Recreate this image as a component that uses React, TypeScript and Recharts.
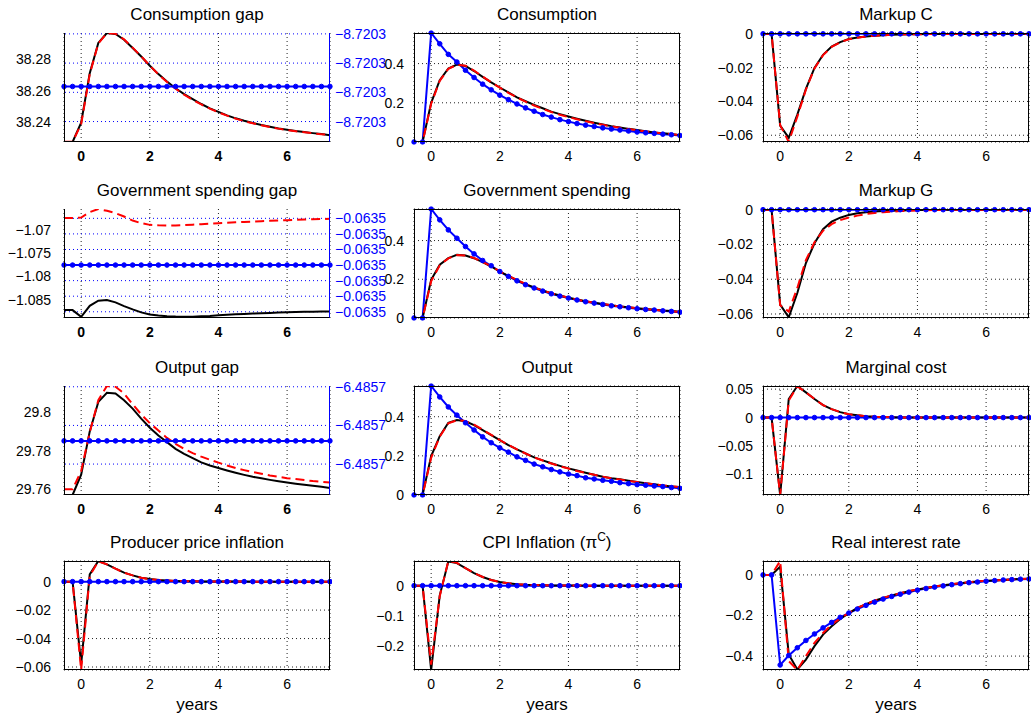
import React from "react"
import { CartesianGrid, Line, LineChart, ReferenceLine, XAxis, YAxis } from "recharts"

// horizon in years, one point per quarter
const quarters = [
  -0.5, -0.25, 0, 0.25, 0.5, 0.75, 1, 1.25, 1.5, 1.75, 2, 2.25, 2.5, 2.75, 3, 3.25,
  3.5, 3.75, 4, 4.25, 4.5, 4.75, 5, 5.25, 5.5, 5.75, 6, 6.25, 6.5, 6.75, 7, 7.25,
]
const xTicks = [0, 2, 4, 6]

// Consumption gap
const consGapBlack = [
  38.227, 38.227, 38.2394, 38.2712, 38.2906, 38.297, 38.2964, 38.2927,
  38.2874, 38.2819, 38.276, 38.2706, 38.2658, 38.2615, 38.2577, 38.2545,
  38.2514, 38.2486, 38.2463, 38.2441, 38.2422, 38.2406, 38.2392, 38.2379,
  38.2368, 38.2357, 38.2348, 38.234, 38.2334, 38.2327, 38.2321, 38.2314,
]
const consGapRed = [
  38.2271, 38.2271, 38.2385, 38.2705, 38.2903, 38.2969, 38.2965, 38.2929,
  38.2876, 38.282, 38.276, 38.2705, 38.2656, 38.2612, 38.2574, 38.2541,
  38.2511, 38.2484, 38.246, 38.2439, 38.242, 38.2404, 38.239, 38.2377,
  38.2366, 38.2356, 38.2347, 38.2339, 38.2332, 38.2326, 38.232, 38.2315,
]
const consGapBlue = [
  -8.7202988, -8.7202988, -8.7202988, -8.7202988, -8.7202988, -8.7202988, -8.7202988, -8.7202988,
  -8.7202988, -8.7202988, -8.7202988, -8.7202988, -8.7202988, -8.7202988, -8.7202988, -8.7202988,
  -8.7202988, -8.7202988, -8.7202988, -8.7202988, -8.7202988, -8.7202988, -8.7202988, -8.7202988,
  -8.7202988, -8.7202988, -8.7202988, -8.7202988, -8.7202988, -8.7202988, -8.7202988, -8.7202988,
]
const consGapTicks = [38.24, 38.26, 38.28]
const consGapRightTicks = [-8.7203, -8.720299, -8.720298, -8.720297]

// Government spending gap
const govGapBlack = [
  -1.08721, -1.08721, -1.08865, -1.08629, -1.08521, -1.08506, -1.08556, -1.08635,
  -1.08706, -1.0877, -1.08813, -1.08835, -1.0885, -1.0886, -1.08865, -1.08862,
  -1.08855, -1.08845, -1.0883, -1.0882, -1.08812, -1.08804, -1.08796, -1.08789,
  -1.08782, -1.08775, -1.08768, -1.08763, -1.08759, -1.08755, -1.08752, -1.0875,
]
const govGapRed = [
  -1.06755, -1.06755, -1.06742, -1.06627, -1.0656, -1.06599, -1.06648, -1.06721,
  -1.06807, -1.06863, -1.06899, -1.0691, -1.06914, -1.06912, -1.06906, -1.06895,
  -1.06884, -1.06873, -1.06863, -1.06854, -1.06845, -1.06836, -1.06828, -1.0682,
  -1.06812, -1.06805, -1.06798, -1.06792, -1.06786, -1.0678, -1.06775, -1.0677,
]
const govGapBlue = [
  -0.0634997, -0.0634997, -0.0634997, -0.0634997, -0.0634997, -0.0634997, -0.0634997, -0.0634997,
  -0.0634997, -0.0634997, -0.0634997, -0.0634997, -0.0634997, -0.0634997, -0.0634997, -0.0634997,
  -0.0634997, -0.0634997, -0.0634997, -0.0634997, -0.0634997, -0.0634997, -0.0634997, -0.0634997,
  -0.0634997, -0.0634997, -0.0634997, -0.0634997, -0.0634997, -0.0634997, -0.0634997, -0.0634997,
]
const govGapTicks = [-1.085, -1.08, -1.075, -1.07]
const govGapRightTicks = [-0.0635, -0.0634999, -0.0634998, -0.0634997, -0.0634996, -0.0634995, -0.0634994]

// Output gap
const outGapBlack = [
  29.7568, 29.7568, 29.7674, 29.79, 29.8054, 29.8102, 29.8098, 29.8063,
  29.8019, 29.7967, 29.7919, 29.7879, 29.7844, 29.7809, 29.7783, 29.776,
  29.7738, 29.7722, 29.7709, 29.7696, 29.7684, 29.7673, 29.7663, 29.7655,
  29.7647, 29.764, 29.7633, 29.7627, 29.7621, 29.7616, 29.7611, 29.7605,
]
const outGapRed = [
  29.7598, 29.7598, 29.7693, 29.7895, 29.8063, 29.8137, 29.8133, 29.8098,
  29.8042, 29.7989, 29.7943, 29.7905, 29.7866, 29.7835, 29.7809, 29.7787,
  29.7768, 29.7752, 29.7737, 29.7722, 29.7709, 29.7698, 29.7688, 29.7679,
  29.767, 29.7663, 29.7656, 29.7651, 29.7646, 29.7641, 29.7637, 29.7633,
]
const outGapBlue = [
  -6.4856994, -6.4856994, -6.4856994, -6.4856994, -6.4856994, -6.4856994, -6.4856994, -6.4856994,
  -6.4856994, -6.4856994, -6.4856994, -6.4856994, -6.4856994, -6.4856994, -6.4856994, -6.4856994,
  -6.4856994, -6.4856994, -6.4856994, -6.4856994, -6.4856994, -6.4856994, -6.4856994, -6.4856994,
  -6.4856994, -6.4856994, -6.4856994, -6.4856994, -6.4856994, -6.4856994, -6.4856994, -6.4856994,
]
const outGapTicks = [29.76, 29.78, 29.8]
const outGapRightTicks = [-6.4857, -6.485699, -6.485698]

// Consumption
const consBlack = [
  0, 0, 0.2, 0.315, 0.375, 0.395, 0.388, 0.362, 0.332, 0.304, 0.278, 0.253, 0.228, 0.208, 0.189, 0.172,
  0.155, 0.142, 0.13, 0.119, 0.108, 0.098, 0.089, 0.081, 0.074, 0.067, 0.061, 0.055, 0.049, 0.045, 0.041, 0.035,
]
const consRed = [
  0, 0, 0.195, 0.312, 0.373, 0.394, 0.389, 0.364, 0.334, 0.304, 0.277, 0.251, 0.227, 0.206, 0.186, 0.169,
  0.153, 0.139, 0.127, 0.116, 0.106, 0.097, 0.088, 0.08, 0.073, 0.066, 0.06, 0.054, 0.049, 0.044, 0.04, 0.036,
]
const consBlue = [
  0, 0, 0.556, 0.501, 0.447, 0.408, 0.366, 0.329, 0.295, 0.266, 0.239, 0.216, 0.194, 0.174, 0.157, 0.14,
  0.127, 0.114, 0.104, 0.094, 0.086, 0.079, 0.072, 0.066, 0.061, 0.056, 0.051, 0.047, 0.044, 0.04, 0.037, 0.033,
]

// Government spending
const govBlack = [
  0, 0, 0.197, 0.275, 0.309, 0.326, 0.323, 0.309, 0.289, 0.266, 0.24, 0.218, 0.196, 0.175, 0.158, 0.142,
  0.128, 0.116, 0.105, 0.096, 0.087, 0.079, 0.072, 0.066, 0.06, 0.055, 0.05, 0.046, 0.043, 0.039, 0.036, 0.032,
]
const govRed = [
  0, 0, 0.19, 0.272, 0.308, 0.325, 0.323, 0.31, 0.29, 0.267, 0.241, 0.218, 0.196, 0.176, 0.158, 0.142,
  0.128, 0.116, 0.105, 0.095, 0.086, 0.079, 0.072, 0.066, 0.06, 0.055, 0.05, 0.046, 0.042, 0.038, 0.035, 0.031,
]
const govBlue = [
  0, 0, 0.563, 0.507, 0.455, 0.412, 0.369, 0.331, 0.297, 0.27, 0.24, 0.215, 0.192, 0.172, 0.155, 0.139,
  0.125, 0.113, 0.103, 0.093, 0.084, 0.077, 0.07, 0.063, 0.058, 0.053, 0.048, 0.044, 0.041, 0.037, 0.034, 0.03,
]

// Output
const outBlack = [
  0, 0, 0.199, 0.301, 0.369, 0.383, 0.377, 0.357, 0.332, 0.306, 0.281, 0.255, 0.233, 0.213, 0.192, 0.177,
  0.162, 0.149, 0.136, 0.125, 0.114, 0.103, 0.093, 0.086, 0.08, 0.073, 0.066, 0.06, 0.055, 0.049, 0.044, 0.041,
]
const outRed = [
  0, 0, 0.19, 0.298, 0.366, 0.382, 0.378, 0.359, 0.334, 0.307, 0.281, 0.256, 0.233, 0.212, 0.192, 0.176,
  0.161, 0.147, 0.135, 0.123, 0.113, 0.103, 0.094, 0.086, 0.079, 0.072, 0.066, 0.06, 0.054, 0.049, 0.045, 0.04,
]
const outBlue = [
  0, 0, 0.557, 0.501, 0.45, 0.408, 0.369, 0.332, 0.297, 0.267, 0.241, 0.219, 0.195, 0.177, 0.158, 0.144,
  0.13, 0.118, 0.107, 0.099, 0.088, 0.082, 0.075, 0.07, 0.063, 0.058, 0.053, 0.05, 0.046, 0.043, 0.038, 0.034,
]
const levelTicks = [0, 0.2, 0.4]

// flexible-price path sits at steady state for the markups, costs and inflation
const flatBlue = [
  0, 0, 0, 0, 0, 0, 0, 0, 0, 0, 0, 0, 0, 0, 0, 0,
  0, 0, 0, 0, 0, 0, 0, 0, 0, 0, 0, 0, 0, 0, 0, 0,
]

// Markup C
const markupCBlack = [
  0, 0, -0.0543, -0.0616, -0.0478, -0.0326, -0.0202, -0.0124, -0.0075, -0.0049, -0.0031, -0.0022, -0.0016, -0.0011, -0.0008, -0.0006,
  -0.0004, -0.0003, -0.0002, -0.00015, -0.0001, -0.00008, -0.00006, -0.00005, -0.00004, -0.00003, -0.00002, -0.00002, -0.00001, -0.00001, -0.00001, -0.00001,
]
const markupCRed = [
  0, 0, -0.054, -0.064, -0.049, -0.033, -0.0205, -0.0126, -0.0077, -0.005, -0.0032, -0.0023, -0.0016, -0.0011, -0.0008, -0.0006,
  -0.0004, -0.0003, -0.0002, -0.00015, -0.0001, -0.00008, -0.00006, -0.00005, -0.00004, -0.00003, -0.00002, -0.00002, -0.00001, -0.00001, -0.00001, -0.00001,
]

// Markup G
const markupGBlack = [
  0, 0, -0.0546, -0.0619, -0.0479, -0.0307, -0.0193, -0.0112, -0.0069, -0.0046, -0.003, -0.0021, -0.0015, -0.0011, -0.0008, -0.0006,
  -0.0004, -0.0003, -0.0002, -0.00015, -0.0001, -0.00008, -0.00006, -0.00005, -0.00004, -0.00003, -0.00002, -0.00002, -0.00001, -0.00001, -0.00001, -0.00001,
]
const markupGRed = [
  0, 0, -0.055, -0.0586, -0.045, -0.029, -0.0187, -0.0121, -0.0083, -0.006, -0.0045, -0.0034, -0.0025, -0.0019, -0.0014, -0.0011,
  -0.0008, -0.0006, -0.0004, -0.0003, -0.0002, -0.00015, -0.0001, -0.00008, -0.00006, -0.00005, -0.00004, -0.00003, -0.00002, -0.00002, -0.00001, -0.00001,
]
const markupTicks = [-0.06, -0.04, -0.02, 0]

// Marginal cost
const mcBlack = [
  0, 0, -0.136, 0.0326, 0.0555, 0.0443, 0.0326, 0.022, 0.0149, 0.0096, 0.006, 0.004, 0.0025, 0.0015, 0.0009, 0.0006,
  0.0003, 0.0002, 0.0001, 0.0001, 0.00005, 0.00003, 0.00002, 0.00001, 0, 0, 0, 0, 0, 0, 0, 0,
]
const mcRed = [
  0, 0, -0.136, 0.03, 0.055, 0.0443, 0.0326, 0.022, 0.0149, 0.0096, 0.006, 0.004, 0.0025, 0.0015, 0.0009, 0.0006,
  0.0003, 0.0002, 0.0001, 0.0001, 0.00005, 0.00003, 0.00002, 0.00001, 0, 0, 0, 0, 0, 0, 0, 0,
]
const mcTicks = [-0.1, -0.05, 0, 0.05]

// Producer price inflation
const ppiBlack = [
  0, 0, -0.058, 0.0051, 0.0145, 0.0121, 0.0091, 0.0063, 0.0044, 0.0028, 0.0018, 0.0012, 0.0008, 0.0005, 0.0003, 0.0002,
  0.0001, 0.00007, 0.00005, 0.00003, 0.00002, 0.00001, 0, 0, 0, 0, 0, 0, 0, 0, 0, 0,
]
const ppiRed = [
  0, 0, -0.0621, 0.004, 0.0143, 0.0121, 0.0091, 0.0063, 0.0044, 0.0028, 0.0018, 0.0012, 0.0008, 0.0005, 0.0003, 0.0002,
  0.0001, 0.00007, 0.00005, 0.00003, 0.00002, 0.00001, 0, 0, 0, 0, 0, 0, 0, 0, 0, 0,
]
const ppiTicks = [-0.06, -0.04, -0.02, 0]

// CPI inflation
const cpiBlack = [
  0, 0, -0.28, -0.032, 0.08, 0.075, 0.058, 0.042, 0.029, 0.019, 0.012, 0.008, 0.005, 0.003, 0.002, 0.0015,
  0.001, 0.0007, 0.0005, 0.0003, 0.0002, 0.0001, 0.0001, 0.00005, 0, 0, 0, 0, 0, 0, 0, 0,
]
const cpiRed = [
  0, 0, -0.262, -0.035, 0.082, 0.076, 0.058, 0.042, 0.029, 0.019, 0.012, 0.008, 0.005, 0.003, 0.002, 0.0015,
  0.001, 0.0007, 0.0005, 0.0003, 0.0002, 0.0001, 0.0001, 0.00005, 0, 0, 0, 0, 0, 0, 0, 0,
]
const cpiTicks = [-0.2, -0.1, 0]

// Real interest rate
const rirBlack = [
  0, 0, 0.041, -0.392, -0.466, -0.417, -0.351, -0.294, -0.253, -0.217, -0.188, -0.163, -0.144, -0.127, -0.113, -0.101,
  -0.09, -0.08, -0.072, -0.064, -0.057, -0.051, -0.046, -0.041, -0.036, -0.032, -0.029, -0.027, -0.025, -0.022, -0.02, -0.019,
]
const rirRed = [
  0, 0, 0.0686, -0.425, -0.468, -0.4, -0.335, -0.286, -0.245, -0.214, -0.187, -0.163, -0.144, -0.127, -0.113, -0.101,
  -0.09, -0.08, -0.072, -0.064, -0.057, -0.051, -0.046, -0.041, -0.036, -0.032, -0.029, -0.027, -0.025, -0.022, -0.02, -0.019,
]
const rirBlue = [
  0, 0, -0.444, -0.397, -0.359, -0.323, -0.291, -0.261, -0.234, -0.209, -0.188, -0.168, -0.15, -0.134, -0.119, -0.106,
  -0.095, -0.085, -0.075, -0.067, -0.06, -0.054, -0.048, -0.043, -0.038, -0.035, -0.031, -0.028, -0.025, -0.023, -0.021, -0.02,
]
const rirTicks = [-0.4, -0.2, 0]

const FONT = '"Liberation Sans", Arial, Helvetica, sans-serif'
const BLUE = "#0000ff"
const COL_X = [64, 414, 763]
const ROW_Y = [33, 209, 386, 561]
const PW = 266
const PH = 109
const YW = 60
const RW = 60
const TOP = 12
const XH = 30

const fmt = (v: number) => String(v).replace("-", "\u2212")
const fmtRight = (v: number) => v.toFixed(4).replace("-", "\u2212")

type RightAxis = { domain: [number, number]; ticks: number[] }

type PanelProps = {
  title: React.ReactNode
  col: number
  row: number
  black: number[]
  red: number[]
  blue: number[]
  yDomain: [number, number]
  yTicks: number[]
  right?: RightAxis
  xLabel?: boolean
}

function Panel({ title, col, row, black, red, blue, yDomain, yTicks, right, xLabel }: PanelProps) {
  const px = COL_X[col]
  const py = ROW_Y[row]
  const rows = quarters.map((t, i) => ({ t, black: black[i], red: red[i], blue: blue[i] }))
  const tickStyle = { fill: "#000", fontSize: 14, fontFamily: FONT }

  const blueLine = (
    <Line
      key="blue"
      yAxisId={right ? "right" : 0}
      dataKey="blue"
      type="linear"
      stroke={BLUE}
      strokeWidth={2}
      dot={{ r: 2.3, fill: BLUE, stroke: BLUE, strokeWidth: 1, clipDot: false }}
      activeDot={false}
      isAnimationActive={false}
    />
  )
  const blackLine = (
    <Line
      key="black"
      dataKey="black"
      type="linear"
      stroke="#000"
      strokeWidth={2}
      dot={false}
      activeDot={false}
      isAnimationActive={false}
    />
  )
  const redLine = (
    <Line
      key="red"
      dataKey="red"
      type="linear"
      stroke="#ff0000"
      strokeWidth={2}
      strokeDasharray="9 5"
      dot={false}
      activeDot={false}
      isAnimationActive={false}
    />
  )

  return (
    <>
      <div
        style={{
          position: "absolute",
          left: px,
          top: py - 28,
          width: PW,
          height: 20,
          lineHeight: "20px",
          fontSize: 17,
          textAlign: "center",
          whiteSpace: "nowrap",
        }}
      >
        {title}
      </div>
      <div style={{ position: "absolute", left: px - YW, top: py - TOP }}>
        <LineChart
          width={YW + PW + (right ? RW : 2)}
          height={TOP + PH + XH}
          data={rows}
          margin={{ top: TOP, right: right ? 0 : 2, bottom: 0, left: 0 }}
        >
          <CartesianGrid stroke="#222" strokeDasharray="1 3" horizontal={!right} vertical />
          <XAxis
            dataKey="t"
            type="number"
            domain={[-0.5, 7.25]}
            ticks={xTicks}
            interval={0}
            allowDataOverflow
            height={XH}
            axisLine={false}
            tickLine={false}
            tickMargin={3}
            tick={{ ...tickStyle, fontWeight: right ? 700 : 400 }}
            tickFormatter={fmt}
          />
          <YAxis
            type="number"
            domain={yDomain}
            ticks={yTicks}
            interval={0}
            allowDataOverflow
            width={YW}
            axisLine={false}
            tickLine={false}
            tickMargin={col === 0 ? 7 : 4}
            tick={tickStyle}
            tickFormatter={fmt}
          />
          {right && (
            <YAxis
              yAxisId="right"
              orientation="right"
              type="number"
              domain={right.domain}
              ticks={right.ticks}
              interval={0}
              allowDataOverflow
              width={RW}
              axisLine={false}
              tickLine={false}
              tickSize={3}
              tick={{ fill: BLUE, fontSize: 14, fontFamily: FONT }}
              tickFormatter={fmtRight}
            />
          )}
          {right &&
            right.ticks.map((v) => (
              <ReferenceLine key={v} yAxisId="right" y={v} stroke={BLUE} strokeDasharray="1 3" />
            ))}
          {right ? [blackLine, redLine, blueLine] : [blueLine, blackLine, redLine]}
        </LineChart>
      </div>
      <div
        style={{
          position: "absolute",
          left: px,
          top: py,
          width: PW,
          height: PH,
          boxSizing: "border-box",
          borderLeft: "1px solid #000",
          borderBottom: "1px solid #000",
          borderTop: right ? "none" : "1px solid #000",
          borderRight: `1px solid ${right ? BLUE : "#000"}`,
          pointerEvents: "none",
        }}
      />
      {xLabel && (
        <div
          style={{
            position: "absolute",
            left: px,
            top: py + PH + 25,
            width: PW,
            height: 20,
            lineHeight: "20px",
            fontSize: 17,
            textAlign: "center",
          }}
        >
          years
        </div>
      )}
    </>
  )
}

export default function App() {
  return (
    <div
      style={{
        position: "absolute",
        left: 0,
        top: 0,
        width: 1031,
        height: 719,
        background: "#fff",
        fontFamily: FONT,
        color: "#000",
        overflow: "hidden",
      }}
    >
      <Panel
        title="Consumption gap"
        col={0}
        row={0}
        black={consGapBlack}
        red={consGapRed}
        blue={consGapBlue}
        yDomain={[38.227, 38.297]}
        yTicks={consGapTicks}
        right={{ domain: [-8.7203007, -8.72029697], ticks: consGapRightTicks }}
      />
      <Panel title="Consumption" col={1} row={0} black={consBlack} red={consRed} blue={consBlue} yDomain={[0, 0.556]} yTicks={levelTicks} />
      <Panel title="Markup C" col={2} row={0} black={markupCBlack} red={markupCRed} blue={flatBlue} yDomain={[-0.064, 0.0005]} yTicks={markupTicks} />

      <Panel
        title="Government spending gap"
        col={0}
        row={1}
        black={govGapBlack}
        red={govGapRed}
        blue={govGapBlue}
        yDomain={[-1.0889, -1.0656]}
        yTicks={govGapTicks}
        right={{ domain: [-0.06350004, -0.06349934], ticks: govGapRightTicks }}
      />
      <Panel title="Government spending" col={1} row={1} black={govBlack} red={govRed} blue={govBlue} yDomain={[0, 0.563]} yTicks={levelTicks} />
      <Panel title="Markup G" col={2} row={1} black={markupGBlack} red={markupGRed} blue={flatBlue} yDomain={[-0.0623, 0.0004]} yTicks={markupTicks} />

      <Panel
        title="Output gap"
        col={0}
        row={2}
        black={outGapBlack}
        red={outGapRed}
        blue={outGapBlue}
        yDomain={[29.7568, 29.8137]}
        yTicks={outGapTicks}
        right={{ domain: [-6.4857008, -6.48569798], ticks: outGapRightTicks }}
      />
      <Panel title="Output" col={1} row={2} black={outBlack} red={outRed} blue={outBlue} yDomain={[0, 0.557]} yTicks={levelTicks} />
      <Panel title="Marginal cost" col={2} row={2} black={mcBlack} red={mcRed} blue={flatBlue} yDomain={[-0.136, 0.0555]} yTicks={mcTicks} />

      <Panel title="Producer price inflation" col={0} row={3} black={ppiBlack} red={ppiRed} blue={flatBlue} yDomain={[-0.0621, 0.0145]} yTicks={ppiTicks} xLabel />
      <Panel
        title={
          <>
            CPI Inflation (π<sup style={{ fontSize: 12, lineHeight: 0 }}>C</sup>)
          </>
        }
        col={1}
        row={3}
        black={cpiBlack}
        red={cpiRed}
        blue={flatBlue}
        yDomain={[-0.28, 0.082]}
        yTicks={cpiTicks}
        xLabel
      />
      <Panel title="Real interest rate" col={2} row={3} black={rirBlack} red={rirRed} blue={rirBlue} yDomain={[-0.4686, 0.0686]} yTicks={rirTicks} xLabel />
    </div>
  )
}
